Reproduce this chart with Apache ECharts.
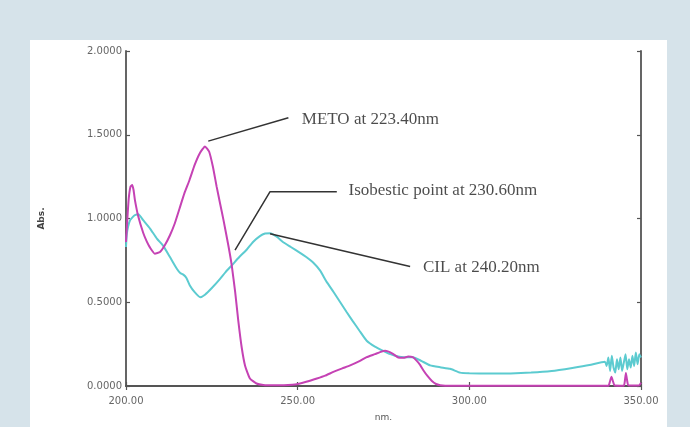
<!DOCTYPE html>
<html>
<head>
<meta charset="utf-8">
<script src="https://cdn.jsdelivr.net/npm/echarts@6/dist/echarts.min.js"></script>
<style>
html, body { margin: 0; padding: 0; }
#wrap { position: relative; width: 690px; height: 427px; background: #d6e3ea; overflow: hidden; }
#panel { position: absolute; left: 30px; top: 40px; width: 637px; height: 387px; background: #fff; }
#main { position: absolute; left: 0; top: 0; width: 690px; height: 427px; }
</style>
</head>
<body>
<div id="wrap"><div id="panel"></div><div id="main"></div></div>
<script>
// METO spectrum (magenta)
var metoWl = [200, 200.4, 200.8, 201.3, 201.8, 202.2, 202.6, 203.6, 205, 206, 207, 208.4, 209.9, 211.3, 212.8, 214.2, 215.6, 217, 218.5, 220,
	221.5, 223, 224.2, 225.3, 226.4, 227.4, 228.4, 229.8, 230.8, 231.8, 232.7, 233.7, 234.7, 236.1, 238, 240, 243, 246, 249.7, 252.5,
	255.6, 258, 260.4, 263, 265.3, 268, 270.1, 272.5, 274, 275.5, 277.5, 279.3, 280.8, 282.2, 283.5, 284.7, 285.7, 286.6, 287.8, 289.1,
	290.3, 291.5, 293, 300, 310, 320, 330, 340.5, 341, 341.4, 341.8, 342.3, 345, 345.3, 345.6, 345.9, 346.3, 348, 349.5, 350];
var metoAbs = [0.86, 1.00, 1.12, 1.19, 1.20, 1.17, 1.11, 1.01, 0.915, 0.865, 0.826, 0.79, 0.80, 0.84, 0.90, 0.97, 1.06, 1.15, 1.23, 1.32,
	1.39, 1.43, 1.40, 1.31, 1.19, 1.09, 0.99, 0.84, 0.72, 0.56, 0.39, 0.23, 0.12, 0.045, 0.015, 0.006, 0.004, 0.005, 0.01, 0.025,
	0.045, 0.062, 0.084, 0.105, 0.123, 0.148, 0.172, 0.19, 0.202, 0.21, 0.195, 0.17, 0.168, 0.176, 0.172, 0.15, 0.125, 0.094, 0.06, 0.03,
	0.012, 0.005, 0.002, 0.001, 0.001, 0.001, 0.001, 0.002, 0.03, 0.055, 0.03, 0.003, 0.002, 0.03, 0.078, 0.04, 0.004, 0.003, 0.004, 0.02];

// CIL spectrum (cyan)
var cilWl = [200, 200.2, 200.6, 201.2, 202, 202.6, 203.6, 205, 207, 209, 210.9, 212.8, 214.8, 215.8, 216.7, 217.6, 218.6, 220, 221.6, 223,
	225, 227.4, 229, 230.8, 233, 235.2, 237, 239, 240.5, 242, 244, 245.7, 248, 250.7, 252.5, 254.5, 256.5, 258.5, 260.5, 262.4,
	264.3, 266.1, 268, 270.1, 272.5, 274.9, 277, 278.9, 281, 283.6, 286, 288.6, 291.5, 294.4, 297.3, 300, 306, 312, 318, 324,
	330, 335, 339.5, 340, 340.5, 341, 341.5, 342, 342.5, 343, 343.5, 344, 344.5, 345, 345.5, 346, 346.5, 347, 347.5, 348,
	348.5, 349, 349.5, 350];
var cilAbs = [0.83, 0.90, 0.95, 0.99, 1.01, 1.02, 1.025, 0.99, 0.94, 0.88, 0.835, 0.77, 0.70, 0.675, 0.665, 0.645, 0.60, 0.56, 0.53, 0.545,
	0.585, 0.64, 0.68, 0.72, 0.77, 0.815, 0.86, 0.895, 0.91, 0.912, 0.89, 0.86, 0.83, 0.795, 0.77, 0.737, 0.69, 0.62, 0.56, 0.50,
	0.44, 0.386, 0.33, 0.27, 0.235, 0.21, 0.19, 0.178, 0.172, 0.172, 0.15, 0.123, 0.112, 0.103, 0.08, 0.076, 0.074, 0.075, 0.08, 0.09,
	0.108, 0.125, 0.145, 0.12, 0.17, 0.09, 0.18, 0.11, 0.08, 0.16, 0.10, 0.17, 0.09, 0.14, 0.19, 0.10, 0.16, 0.11, 0.18, 0.12,
	0.20, 0.13, 0.19, 0.17];

// annotations: leader lines (data coords) and label anchors
var notes = ['METO at 223.40nm', 'Isobestic point at 230.60nm', 'CIL at 240.20nm'];
var leaders = [
	[[223.96, 1.462], [247.3, 1.601]],
	[[231.76, 0.811], [241.96, 1.160], [261.4, 1.160]],
	[[241.96, 0.909], [282.75, 0.713]]
];
var noteAt = [[251.2, 1.589], [264.8, 1.168], [286.5, 0.708]];

var xTicks = { min: 200, max: 350, step: 50 };
var yTicks = { min: 0, max: 2, step: 0.5 };

function pairs(xs, ys) {
	var out = [];
	for (var i = 0; i < xs.length; i++) out.push([xs[i], ys[i]]);
	return out;
}

var myChart = echarts.init(document.getElementById('main'), null, { renderer: 'canvas' });

var axisLine = { show: true, lineStyle: { color: '#555', width: 1.8 } };
var tick = { show: true, inside: true, length: 4, lineStyle: { color: '#555', width: 1.2 } };

var series = [
	{
		name: 'METO', type: 'line', data: pairs(metoWl, metoAbs), showSymbol: false, smooth: 0.15,
		lineStyle: { color: '#c542b4', width: 2 }, z: 3
	},
	{
		name: 'CIL', type: 'line', data: pairs(cilWl, cilAbs), showSymbol: false, smooth: 0.15,
		lineStyle: { color: '#5ccbd0', width: 2 }, z: 2
	}
];
for (var i = 0; i < leaders.length; i++) {
	series.push({
		type: 'line', data: leaders[i], showSymbol: false, silent: true,
		lineStyle: { color: '#333', width: 1.5 }, z: 4
	});
}
series.push({
	type: 'scatter', symbolSize: 0, silent: true, z: 5,
	data: noteAt.map(function (p, k) { return { name: notes[k], value: p }; }),
	label: {
		show: true, position: 'right', distance: 0,
		formatter: '{b}', fontFamily: 'Liberation Serif', fontSize: 17, color: '#1e1e1e'
	}
});

option = {
	animation: false,
	backgroundColor: 'transparent',
	grid: { left: 126, right: 49, top: 51, bottom: 34 },
	xAxis: [
		{
			type: 'value', min: xTicks.min, max: xTicks.max, interval: xTicks.step, position: 'bottom',
			axisLine: axisLine, axisTick: tick, splitLine: { show: false },
			axisLabel: {
				formatter: function (v) { return v.toFixed(2); },
				color: '#666', fontFamily: 'DejaVu Sans', fontSize: 10, margin: 10
			},
			name: 'nm.', nameLocation: 'middle', nameGap: 27,
			nameTextStyle: { color: '#555', fontFamily: 'DejaVu Sans', fontSize: 9 }
		},
		{
			type: 'value', min: xTicks.min, max: xTicks.max, interval: xTicks.step, position: 'top',
			axisLine: axisLine, axisTick: tick, axisLabel: { show: false }, splitLine: { show: false }
		}
	],
	yAxis: [
		{
			type: 'value', min: yTicks.min, max: yTicks.max, interval: yTicks.step, position: 'left',
			axisLine: axisLine, axisTick: tick, splitLine: { show: false },
			axisLabel: {
				formatter: function (v) { return v.toFixed(4); },
				color: '#666', fontFamily: 'DejaVu Sans', fontSize: 10, margin: 4
			},
			name: 'Abs.', nameLocation: 'middle', nameGap: 80, nameRotate: 90,
			nameTextStyle: { color: '#444', fontFamily: 'DejaVu Sans', fontSize: 9, fontWeight: 'bold' }
		},
		{
			type: 'value', min: yTicks.min, max: yTicks.max, interval: yTicks.step, position: 'right',
			axisLine: axisLine, axisTick: tick, axisLabel: { show: false }, splitLine: { show: false }
		}
	],
	series: series
};
myChart.setOption(option);
</script>
</body>
</html>
